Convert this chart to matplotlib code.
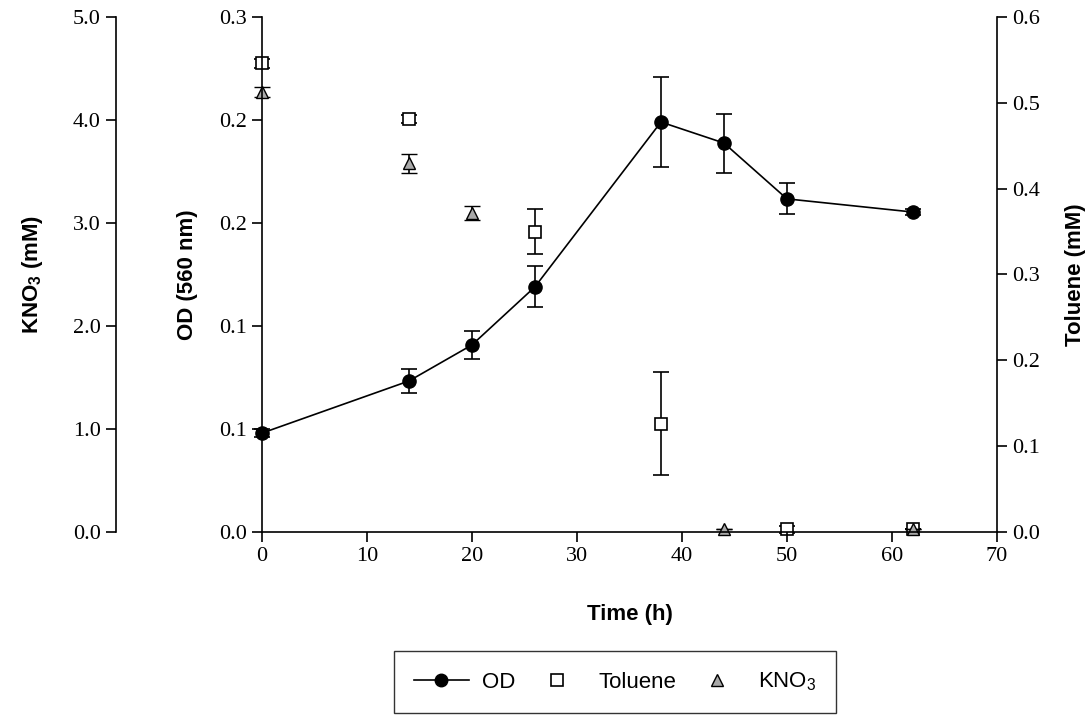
import matplotlib.pyplot as plt
from matplotlib.lines import Line2D
import numpy as np

plt.rcParams['mathtext.default'] = 'regular'

# data
od_time = [0, 14, 20, 26, 38, 44, 50, 62]
od = [0.048, 0.0733, 0.0908, 0.119, 0.199, 0.1888, 0.1617, 0.1553]
od_err = [0.002, 0.0058, 0.0068, 0.010, 0.0218, 0.0143, 0.0075, 0.0015]

tol_time = [0, 14, 26, 38, 50, 62]
toluene = [0.546, 0.481, 0.350, 0.126, 0.003, 0.003]
tol_err = [0.005, 0.005, 0.026, 0.060, 0.004, 0.0]

kno3_time = [0, 14, 20, 44, 62]
kno3 = [4.27, 3.58, 3.10, 0.03, 0.03]
kno3_err = [0.05, 0.092, 0.068, 0.0, 0.0]

od_ticks = [0, 0.05, 0.10, 0.15, 0.20, 0.25]
od_ticklabels = ['0.0', '0.1', '0.1', '0.2', '0.2', '0.3']
tol_ticks = [0, 0.1, 0.2, 0.3, 0.4, 0.5, 0.6]
kno3_ticks = [0, 1, 2, 3, 4, 5]
x_ticks = [0, 10, 20, 30, 40, 50, 60, 70]

serif = 'Liberation Serif'
sans = 'Liberation Sans'
fs = 16

fig = plt.figure(figsize=(10.91, 7.16), dpi=100)
ax = fig.add_axes([0.2401, 0.2570, 0.6737, 0.7193])
ax2 = ax.twinx()
ax3 = ax.twinx()

ax.set_zorder(3)
ax.patch.set_visible(False)

ebkw = dict(capsize=6, elinewidth=1.2, capthick=1.2, ecolor='black', clip_on=False)

# KNO3 (left outer axis)
ax3.errorbar(kno3_time, kno3, yerr=kno3_err, fmt='^', ms=9, mfc='#a9a9a9',
             mec='black', mew=1.0, **ebkw)
# Toluene (right axis)
ax2.errorbar(tol_time, toluene, yerr=tol_err, fmt='s', ms=8, mfc='white',
             mec='black', mew=1.2, **ebkw)
# OD
ax.errorbar(od_time, od, yerr=od_err, fmt='-o', color='black', lw=1.2, ms=9.5,
            **ebkw)

ax.set_xlim(0, 70)
ax.set_ylim(0, 0.25)
ax2.set_ylim(0, 0.6)
ax3.set_ylim(0, 5)

for a in (ax, ax2, ax3):
    a.spines['top'].set_visible(False)
    for s in a.spines.values():
        s.set_linewidth(1.2)

ax.spines['right'].set_visible(False)
ax2.spines['left'].set_visible(False)
ax2.spines['bottom'].set_visible(False)
ax3.spines['right'].set_visible(False)
ax3.spines['bottom'].set_visible(False)
ax3.spines['left'].set_visible(True)
ax3.spines['left'].set_position(('outward', 105))
ax3.yaxis.set_ticks_position('left')
ax3.yaxis.set_label_position('left')

for a in (ax, ax2, ax3):
    a.tick_params(direction='out', length=7, width=1.2, pad=4, labelsize=fs)

ax.set_xticks(x_ticks)
ax.set_xticklabels([str(t) for t in x_ticks], family=serif, fontsize=fs)
ax.set_yticks(od_ticks)
ax.set_yticklabels(od_ticklabels, family=serif, fontsize=fs)
ax2.set_yticks(tol_ticks)
ax2.set_yticklabels(['%.1f' % v for v in tol_ticks], family=serif, fontsize=fs)
ax3.set_yticks(kno3_ticks)
ax3.set_yticklabels(['%.1f' % v for v in kno3_ticks], family=serif, fontsize=fs)

lab = dict(family=sans, fontweight='bold', fontsize=fs)
ax.set_xlabel('Time (h)', labelpad=27, **lab)
ax.set_ylabel('OD (560 nm)', labelpad=15, **lab)
ax2.set_ylabel('Toluene (mM)', labelpad=18, **lab)
ax3.set_ylabel('KNO$_3$ (mM)', labelpad=20, **lab)

handles = [
    Line2D([], [], color='black', lw=1.2, marker='o', ms=9),
    Line2D([], [], ls='none', marker='s', ms=8, mfc='white', mec='black', mew=1.2),
    Line2D([], [], ls='none', marker='^', ms=8, mfc='#a9a9a9', mec='black', mew=1.0),
]
leg = fig.legend(handles, ['OD', 'Toluene', 'KNO$_3$'], loc='center',
                 bbox_to_anchor=(0.5637, 0.0475), ncol=3, frameon=True,
                 fancybox=False, edgecolor='black', handlelength=2.5,
                 columnspacing=0.6, prop={'family': sans, 'size': fs},
                 borderpad=0.9, handletextpad=0.6)
leg.get_frame().set_linewidth(1.0)

fig.savefig('out.png', dpi=100)
